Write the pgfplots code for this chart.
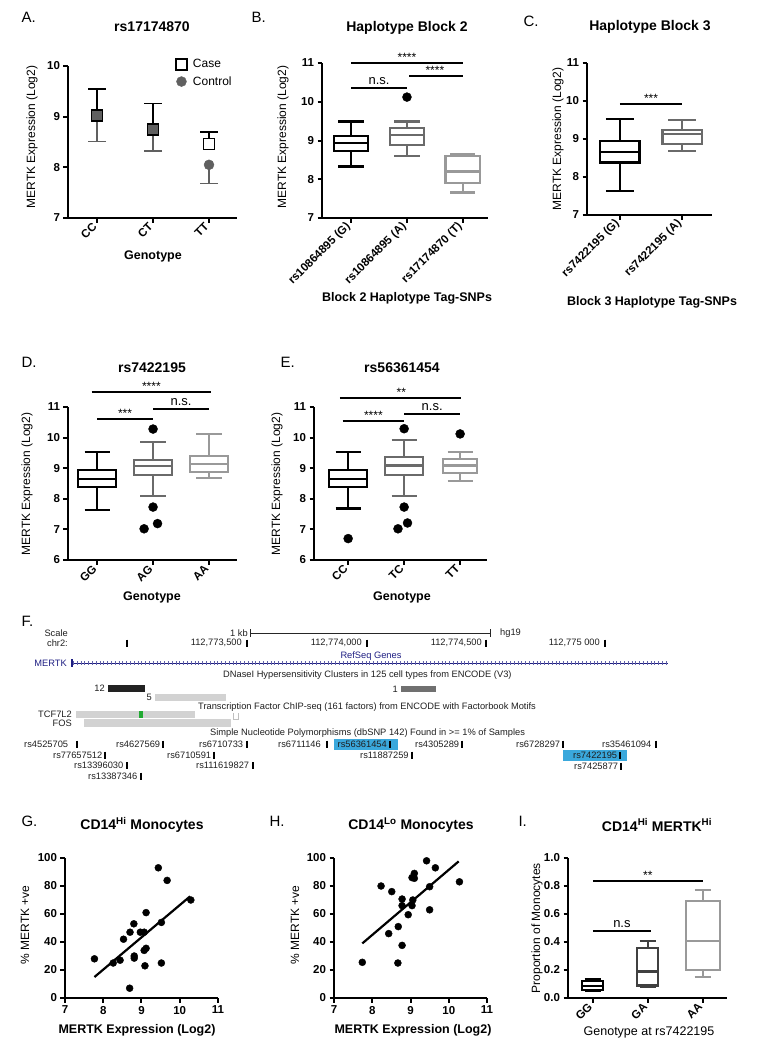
\documentclass[border=0pt]{standalone}
\usepackage{fontspec}
\setmainfont{Liberation Sans}
\usepackage{pgfplots}
\pgfplotsset{compat=1.18}
\usepgfplotslibrary{statistics}
\definecolor{g2}{HTML}{6A6A6A}
\definecolor{g3}{HTML}{999999}
\definecolor{g4}{HTML}{404040}
\definecolor{ctrl}{HTML}{606060}
\definecolor{navyb}{HTML}{1E1E82}
\definecolor{snpblue}{HTML}{3AA8DC}
\definecolor{lgray}{HTML}{D2D2D2}
\definecolor{dhsdark}{HTML}{222222}
\definecolor{dhsmid}{HTML}{707070}
\definecolor{tfgreen}{HTML}{22AA33}
\newcommand{\fs}[1]{\fontsize{#1}{#1}\selectfont}
\pgfplotsset{
  gp/.style={scale only axis, anchor=south west, clip=false,
    axis lines*=left, axis line style={line width=2.2pt, black},
    tick align=outside, major tick length=4.5pt,
    every tick/.append style={line width=2pt, black},
    /pgf/number format/assume math mode=true,
    tick label style={font=\bfseries\fs{11.5}},
    boxplot/draw direction=y},
  rot/.style={xticklabel style={rotate=45, anchor=east}},
  sig/.style={black, line width=2.2pt},
  bx/.style={line width=2.2pt},
}
\tikzset{
  ttl/.style={font=\bfseries\fs{14}},
  plbl/.style={font=\fs{15}, anchor=west},
  yl/.style={rotate=90, font=\fs{12}},
  xl/.style={font=\bfseries\fs{12.5}},
  star/.style={font=\fs{12}, anchor=base, inner sep=0pt},
  ns/.style={font=\fs{13}, anchor=base, inner sep=0pt},
  ft/.style={font=\fs{9.3}, inner sep=0pt, text=black!88},
}
\begin{document}
\begin{tikzpicture}
\path[use as bounding box] (0pt,0pt) rectangle (760pt,-1044pt);

% ---------------- Panel A ----------------
\node[plbl] at (18pt,-17pt) {A.};
\node[ttl] at (152pt,-27pt) {rs17174870};
\node[yl] at (32pt,-137pt) {MERTK Expression (Log2)};
\node[xl] at (153pt,-256pt) {Genotype};
\begin{axis}[gp, rot, at={(68pt,-218pt)}, width=169pt, height=152pt,
  xmin=-0.52, xmax=2.5, ymin=7, ymax=10, ytick={7,8,9,10},
  xtick={0,1,2}, xticklabels={CC,CT,TT},
  legend style={at={(0.62,1.07)}, anchor=north west, draw=none, fill=none,
    font=\fs{12}, row sep=3pt, cells={anchor=west}}]
\addlegendimage{only marks, mark=square, mark size=5.5pt, mark options={line width=1.8pt, black}}
\addlegendentry{\hspace{4pt}Case}
\addlegendimage{only marks, mark=*, mark size=5pt, mark options={draw=ctrl, fill=ctrl}}
\addlegendentry{\hspace{4pt}Control}
\addplot[forget plot, only marks, mark=*, mark size=5pt, color=ctrl,
  error bars/.cd, y dir=minus, y explicit,
  error bar style={line width=1.9pt, ctrl},
  error mark options={rotate=90, line width=1.9pt, mark size=9pt, ctrl}]
  coordinates {(0,9.03) +- (0,0.52) (1,8.74) +- (0,0.41) (2,8.05) +- (0,0.37)};
\addplot[forget plot, only marks, mark=square*, mark size=5.5pt, color=black,
  mark options={draw=black, fill=ctrl, line width=1.8pt},
  error bars/.cd, y dir=plus, y explicit,
  error bar style={line width=1.9pt, black},
  error mark options={rotate=90, line width=1.9pt, mark size=9pt, black}]
  coordinates {(0,9.03) +- (0,0.51) (1,8.74) +- (0,0.52)};
\addplot[forget plot, only marks, mark=square*, mark size=5.5pt, color=black,
  mark options={draw=black, fill=white, line width=1.8pt},
  error bars/.cd, y dir=plus, y explicit,
  error bar style={line width=1.9pt, black},
  error mark options={rotate=90, line width=1.9pt, mark size=9pt, black}]
  coordinates {(2,8.46) +- (0,0.24)};
\end{axis}

% ---------------- Panel B ----------------
\node[plbl] at (248pt,-17pt) {B.};
\node[ttl] at (407pt,-28pt) {Haplotype Block 2};
\node[yl] at (283pt,-137pt) {MERTK Expression (Log2)};
\node[xl] at (407pt,-298pt) {Block 2 Haplotype Tag-SNPs};
\begin{axis}[gp, rot, at={(322pt,-218pt)}, width=166pt, height=155pt,
  xmin=-0.52, xmax=2.45, ymin=7, ymax=11, ytick={7,8,9,10,11},
  xtick={0,1,2}, xticklabels={rs10864895 (G),rs10864895 (A),rs17174870 (T)}]
\addplot[black, bx, boxplot prepared={draw position=0, box extend=0.62, whisker extend=0.45,
  lower whisker=8.33, lower quartile=8.72, median=8.94, upper quartile=9.11, upper whisker=9.49}] coordinates {};
\addplot[g2, bx, boxplot prepared={draw position=1, box extend=0.62, whisker extend=0.45,
  lower whisker=8.59, lower quartile=8.88, median=9.15, upper quartile=9.32, upper whisker=9.49}] coordinates {};
\addplot[g3, bx, boxplot prepared={draw position=2, box extend=0.62, whisker extend=0.45,
  lower whisker=7.66, lower quartile=7.90, median=8.20, upper quartile=8.61, upper whisker=8.65}] coordinates {};
\addplot[only marks, mark=*, mark size=4.5pt, black] coordinates {(1,10.12)};
\addplot[sig] coordinates {(0,11.0) (2,11.0)};
\addplot[sig] coordinates {(1.04,10.66) (2,10.66)};
\addplot[sig] coordinates {(0,10.35) (1,10.35)};
\node[star] at (axis cs:1,11.0) [yshift=1.5pt] {****};
\node[star] at (axis cs:1.5,10.66) [yshift=1.5pt] {****};
\node[ns] at (axis cs:0.5,10.35) [yshift=3.5pt] {n.s.};
\end{axis}

% ---------------- Panel C ----------------
\node[plbl] at (520pt,-21pt) {C.};
\node[ttl] at (650pt,-27pt) {Haplotype Block 3};
\node[yl] at (558pt,-139pt) {MERTK Expression (Log2)};
\node[xl] at (652pt,-302pt) {Block 3 Haplotype Tag-SNPs};
\begin{axis}[gp, rot, at={(587pt,-215pt)}, width=125pt, height=152pt,
  xmin=-0.53, xmax=1.48, ymin=7, ymax=11, ytick={7,8,9,10,11},
  xtick={0,1}, xticklabels={rs7422195 (G),rs7422195 (A)}]
\addplot[black, bx, boxplot prepared={draw position=0, box extend=0.63, whisker extend=0.45,
  lower whisker=7.63, lower quartile=8.38, median=8.66, upper quartile=8.95, upper whisker=9.52}] coordinates {};
\addplot[g2, bx, boxplot prepared={draw position=1, box extend=0.63, whisker extend=0.45,
  lower whisker=8.69, lower quartile=8.87, median=9.13, upper quartile=9.23, upper whisker=9.51}] coordinates {};
\addplot[sig] coordinates {(0,9.92) (1,9.92)};
\node[star] at (axis cs:0.5,9.92) [yshift=1.5pt] {***};
\end{axis}

% ---------------- Panel D ----------------
\node[plbl] at (18pt,-362pt) {D.};
\node[ttl] at (152pt,-368pt) {rs7422195};
\node[yl] at (27pt,-484pt) {MERTK Expression (Log2)};
\node[xl] at (152pt,-597pt) {Genotype};
\begin{axis}[gp, rot, at={(68pt,-560pt)}, width=169pt, height=153pt,
  xmin=-0.52, xmax=2.5, ymin=6, ymax=11, ytick={6,7,8,9,10,11},
  xtick={0,1,2}, xticklabels={GG,AG,AA}]
\addplot[black, bx, boxplot prepared={draw position=0, box extend=0.68, whisker extend=0.45,
  lower whisker=7.64, lower quartile=8.39, median=8.66, upper quartile=8.93, upper whisker=9.52}] coordinates {};
\addplot[g2, bx, boxplot prepared={draw position=1, box extend=0.68, whisker extend=0.45,
  lower whisker=8.08, lower quartile=8.79, median=9.06, upper quartile=9.28, upper whisker=9.85}] coordinates {};
\addplot[g3, bx, boxplot prepared={draw position=2, box extend=0.68, whisker extend=0.45,
  lower whisker=8.68, lower quartile=8.88, median=9.14, upper quartile=9.39, upper whisker=10.13}] coordinates {};
\addplot[only marks, mark=*, mark size=4.5pt, black] coordinates {(1,10.28) (1,7.73) (0.84,7.02) (1.08,7.19)};
\addplot[sig] coordinates {(-0.1,11.49) (2.03,11.49)};
\addplot[sig] coordinates {(1,10.93) (2,10.93)};
\addplot[sig] coordinates {(0,10.61) (1,10.61)};
\node[star] at (axis cs:0.97,11.49) [yshift=1.5pt] {****};
\node[star] at (axis cs:0.5,10.61) [yshift=1.5pt] {***};
\node[ns] at (axis cs:1.5,10.93) [yshift=3.5pt] {n.s.};
\end{axis}

% ---------------- Panel E ----------------
\node[plbl] at (277pt,-362pt) {E.};
\node[ttl] at (402pt,-368pt) {rs56361454};
\node[yl] at (277pt,-484pt) {MERTK Expression (Log2)};
\node[xl] at (402pt,-597pt) {Genotype};
\begin{axis}[gp, rot, at={(314pt,-560pt)}, width=173pt, height=153pt,
  xmin=-0.61, xmax=2.48, ymin=6, ymax=11, ytick={6,7,8,9,10,11},
  xtick={0,1,2}, xticklabels={CC,TC,TT}]
\addplot[black, bx, boxplot prepared={draw position=0, box extend=0.68, whisker extend=0.45,
  lower whisker=7.68, lower quartile=8.39, median=8.66, upper quartile=8.95, upper whisker=9.52}] coordinates {};
\addplot[g2, bx, boxplot prepared={draw position=1, box extend=0.68, whisker extend=0.45,
  lower whisker=8.10, lower quartile=8.79, median=9.09, upper quartile=9.36, upper whisker=9.91}] coordinates {};
\addplot[g3, bx, boxplot prepared={draw position=2, box extend=0.61, whisker extend=0.45,
  lower whisker=8.59, lower quartile=8.84, median=9.09, upper quartile=9.30, upper whisker=9.52}] coordinates {};
\addplot[only marks, mark=*, mark size=4.5pt, black] coordinates {(0,6.70) (1,10.29) (1,7.73) (0.89,7.02) (1.06,7.21) (2,10.12)};
\addplot[sig] coordinates {(-0.15,11.30) (2.02,11.30)};
\addplot[sig] coordinates {(1,10.77) (2,10.77)};
\addplot[sig] coordinates {(-0.1,10.55) (1,10.55)};
\node[star] at (axis cs:0.95,11.30) [yshift=1.5pt] {**};
\node[star] at (axis cs:0.45,10.55) [yshift=1.5pt] {****};
\node[ns] at (axis cs:1.5,10.77) [yshift=3.5pt] {n.s.};
\end{axis}

% ---------------- Panel F ----------------
\node[plbl] at (18pt,-621pt) {F.};
\begin{axis}[at={(0pt,-800pt)}, anchor=south west, scale only axis, width=760pt, height=190pt,
  xmin=0, xmax=760, ymin=-800, ymax=-610, hide axis, clip=false]
\node[ft, anchor=east] at (axis cs:68,-633) {Scale};
\node[ft, anchor=east] at (axis cs:68,-643) {chr2:};
\node[ft, anchor=east] at (axis cs:248,-633) {1 kb};
\node[ft, anchor=west] at (axis cs:500,-633) {hg19};
\addplot[black!85, line width=0.9pt] coordinates {(250,-633) (490,-633)};
\addplot[only marks, mark=|, mark size=4pt, black!85, mark options={line width=0.9pt}] coordinates {(250,-633) (490,-633)};
\node[ft, anchor=east] at (axis cs:242,-643) {112,773,500};
\node[ft, anchor=east] at (axis cs:362,-643) {112,774,000};
\node[ft, anchor=east] at (axis cs:482,-643) {112,774,500};
\node[ft, anchor=east] at (axis cs:600,-643) {112,775 000};
\addplot[only marks, mark=|, mark size=3.5pt, black, mark options={line width=1.1pt}] coordinates {(127,-643) (247,-643) (367,-643) (486,-643) (605,-643)};
\node[ft, anchor=east, text=navyb] at (axis cs:67,-663) {MERTK};
\node[ft, text=navyb] at (axis cs:371,-656) {RefSeq Genes};
\addplot[navyb, line width=0.8pt] coordinates {(72,-663) (668,-663)};
\addplot[navyb!70, line width=4pt, dash pattern=on 0.6pt off 3.2pt] coordinates {(73,-663) (668,-663)};
\addplot[only marks, mark=|, mark size=4pt, navyb, mark options={line width=1.2pt}] coordinates {(72,-663)};
\node[ft, anchor=west] at (axis cs:223,-675) {DNaseI Hypersensitivity Clusters in 125 cell types from ENCODE (V3)};
\node[ft, anchor=east] at (axis cs:105,-688.5) {12};
\addplot[fill=dhsdark, draw=none] coordinates {(108,-685) (145,-685) (145,-692) (108,-692)};
\node[ft, anchor=east] at (axis cs:152,-697.5) {5};
\addplot[fill=lgray, draw=none] coordinates {(155,-694) (226,-694) (226,-701) (155,-701)};
\node[ft, anchor=east] at (axis cs:398,-689) {1};
\addplot[fill=dhsmid, draw=none] coordinates {(401,-686) (436,-686) (436,-692) (401,-692)};
\node[ft, anchor=west] at (axis cs:198,-707) {Transcription Factor ChIP-seq (161 factors) from ENCODE with Factorbook Motifs};
\node[ft, anchor=east] at (axis cs:72,-714.5) {TCF7L2};
\addplot[fill=lgray, draw=none] coordinates {(76,-711) (195,-711) (195,-718) (76,-718)};
\addplot[fill=tfgreen, draw=none] coordinates {(139,-711) (143,-711) (143,-718) (139,-718)};
\addplot[draw=black!25, line width=0.6pt] coordinates {(233,-713) (233,-719) (238,-719) (238,-713)};
\node[ft, anchor=east] at (axis cs:72,-723) {FOS};
\addplot[fill=lgray, draw=none] coordinates {(84,-719) (231,-719) (231,-727) (84,-727)};
\node[ft, anchor=west] at (axis cs:210,-733) {Simple Nucleotide Polymorphisms (dbSNP 142) Found in >= 1\% of Samples};
\addplot[fill=snpblue, draw=none] coordinates {(334,-739) (398,-739) (398,-749.5) (334,-749.5)};
\addplot[fill=snpblue, draw=none] coordinates {(563,-750) (627,-750) (627,-761) (563,-761)};
\node[ft, anchor=west] at (axis cs:24,-744) {rs4525705};
\node[ft, anchor=west] at (axis cs:116,-744) {rs4627569};
\node[ft, anchor=west] at (axis cs:199,-744) {rs6710733};
\node[ft, anchor=west] at (axis cs:278,-744) {rs6711146};
\node[ft, anchor=west] at (axis cs:337.5,-744) {rs56361454};
\node[ft, anchor=west] at (axis cs:415,-744) {rs4305289};
\node[ft, anchor=west] at (axis cs:516,-744) {rs6728297};
\node[ft, anchor=west] at (axis cs:602,-744) {rs35461094};
\node[ft, anchor=west] at (axis cs:53,-755) {rs77657512};
\node[ft, anchor=west] at (axis cs:167,-755) {rs6710591};
\node[ft, anchor=west] at (axis cs:360,-755) {rs11887259};
\node[ft, anchor=west] at (axis cs:573,-755.5) {rs7422195};
\node[ft, anchor=west] at (axis cs:74,-765.5) {rs13396030};
\node[ft, anchor=west] at (axis cs:196,-765.5) {rs111619827};
\node[ft, anchor=west] at (axis cs:574,-766) {rs7425877};
\node[ft, anchor=west] at (axis cs:88,-776) {rs13387346};
\addplot[only marks, mark=|, mark size=3.5pt, black, mark options={line width=1.1pt}] coordinates {
  (77,-744) (163,-744) (247,-744) (327,-744) (390,-744) (462,-744) (563,-744) (656,-744)
  (105,-755) (214,-755) (412,-755) (620,-755.5)
  (127,-765.5) (621,-766) (141,-776)};
\addplot[only marks, mark=|, mark size=3.5pt, black, mark options={line width=2pt}] coordinates {(253,-765.5)};
\end{axis}

% ---------------- Panel G ----------------
\node[plbl] at (18pt,-821pt) {G.};
\node[ttl] at (142pt,-825pt) {CD14\textsuperscript{Hi} Monocytes};
\node[yl] at (25pt,-925pt) {\% MERTK +ve};
\node[xl] at (137pt,-1030pt) {MERTK Expression (Log2)};
\begin{axis}[gp, at={(65pt,-998pt)}, width=153pt, height=140pt,
  xmin=7, xmax=11, ymin=0, ymax=100, xtick={7,8,9,10,11}, ytick={0,20,40,60,80,100}]
\addplot[only marks, mark=*, mark size=3.5pt, black] coordinates {
 (7.77,28) (8.26,25) (8.44,27) (8.53,42) (8.69,7) (8.70,47) (8.80,53) (8.81,30)
 (8.81,28.5) (8.97,47) (9.07,47) (9.07,34) (9.09,23) (9.12,61) (9.12,35.5)
 (9.44,93) (9.52,54) (9.52,25) (9.67,84) (10.29,70)};
\addplot[black, line width=2.2pt] coordinates {(7.77,15) (10.27,72.6)};
\end{axis}

% ---------------- Panel H ----------------
\node[plbl] at (266pt,-821pt) {H.};
\node[ttl] at (411pt,-825pt) {CD14\textsuperscript{Lo} Monocytes};
\node[yl] at (295pt,-925pt) {\% MERTK +ve};
\node[xl] at (413pt,-1030pt) {MERTK Expression (Log2)};
\begin{axis}[gp, at={(334pt,-998pt)}, width=153pt, height=140pt,
  xmin=7, xmax=11, ymin=0, ymax=100, xtick={7,8,9,10,11}, ytick={0,20,40,60,80,100}]
\addplot[only marks, mark=*, mark size=3.5pt, black] coordinates {
 (7.74,25.5) (8.23,80) (8.51,76) (8.43,46) (8.68,51) (8.67,25) (8.78,70.7) (8.78,66)
 (8.78,37.6) (8.94,59.5) (9.04,66) (9.06,70) (9.04,86) (9.10,89) (9.10,85.5)
 (9.42,98) (9.50,79.5) (9.50,63) (9.65,93) (10.28,83)};
\addplot[black, line width=2.2pt] coordinates {(7.74,39) (10.26,97.6)};
\end{axis}

% ---------------- Panel I ----------------
\node[plbl] at (515pt,-821pt) {I.};
\node[ttl] at (657pt,-825pt) {CD14\textsuperscript{Hi} MERTK\textsuperscript{Hi}};
\node[yl] at (537pt,-928pt) {Proportion of Monocytes};
\node[font=\fs{12.5}] at (649pt,-1032pt) {Genotype at rs7422195};
\begin{axis}[gp, rot, at={(568pt,-998pt)}, width=159pt, height=140pt,
  xmin=-0.45, xmax=2.44, ymin=0, ymax=1, ytick={0,0.2,0.4,0.6,0.8,1.0},
  yticklabel style={/pgf/number format/.cd, fixed, fixed zerofill, precision=1},
  xtick={0,1,2}, xticklabels={GG,GA,AA}]
\addplot[black, bx, boxplot prepared={draw position=0, box extend=0.38, whisker extend=0.3,
  lower whisker=0.048, lower quartile=0.06, median=0.088, upper quartile=0.124, upper whisker=0.136}] coordinates {};
\addplot[g4, bx, boxplot prepared={draw position=1, box extend=0.38, whisker extend=0.3,
  lower whisker=0.079, lower quartile=0.09, median=0.19, upper quartile=0.357, upper whisker=0.41}] coordinates {};
\addplot[g3, bx, boxplot prepared={draw position=2, box extend=0.62, whisker extend=0.3,
  lower whisker=0.15, lower quartile=0.198, median=0.405, upper quartile=0.695, upper whisker=0.774}] coordinates {};
\addplot[sig] coordinates {(0,0.836) (2,0.836)};
\addplot[sig] coordinates {(0,0.479) (1.05,0.479)};
\node[star] at (axis cs:1,0.836) [yshift=1.5pt] {**};
\node[ns] at (axis cs:0.53,0.479) [yshift=3.5pt] {n.s};
\end{axis}
\end{tikzpicture}
\end{document}
